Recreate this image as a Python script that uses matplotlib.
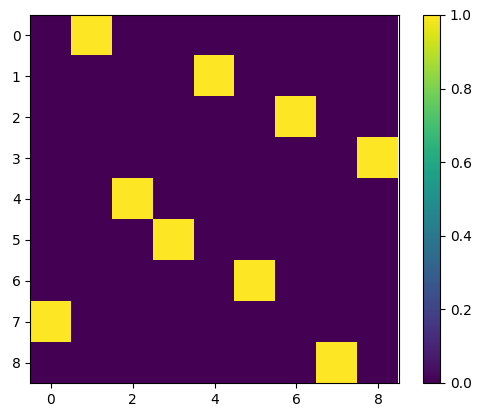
import numpy as np
import matplotlib
matplotlib.use("Agg")
import matplotlib.pyplot as plt

rows = [0, 1, 2, 3, 4, 5, 6, 7, 8]
cols = [1, 4, 6, 8, 2, 3, 5, 0, 7]
n = 9

mat = np.zeros((n, n))
for r, c in zip(rows, cols):
    mat[r, c] = 1.0

fig = plt.figure(figsize=(4.83, 4.18), dpi=100)
ax = fig.add_axes([30/483, 1 - 383/418, 369/483, 368/418])
im = ax.imshow(mat, cmap="viridis", vmin=0, vmax=1)
cax = fig.add_axes([423/483, 1 - 383/418, 17/483, 368/418])
fig.colorbar(im, cax=cax)
fig.savefig("out.png", dpi=100)
